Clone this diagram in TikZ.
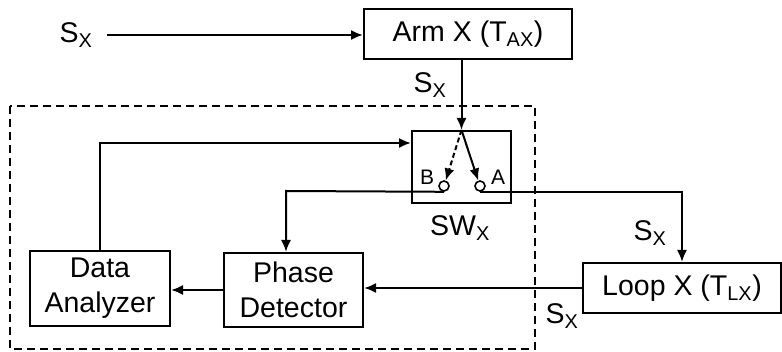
\documentclass[tikz,border=0pt]{standalone}
\usepackage{fontspec}
\setmainfont{Liberation Sans}
\usepackage{tikz}
\usetikzlibrary{positioning, arrows, arrows.meta, calc}
\tikzset{
  bigtext/.style={font=\fontsize{28.5}{35}\selectfont}
}
\tikzset{
  smalltext/.style={font=\fontsize{21}{23}\selectfont}
}
\tikzset{
  blockbox/.style={draw, line width=2pt, bigtext, align=center, inner sep=0pt}
}
\newcommand{\sgx}{S\textsubscript{X}}

\begin{document}
\begin{tikzpicture}[>={Latex[length=12pt, width=10pt]}, x=1pt, y=-1pt, line width=2pt]
      \useasboundingbox (0,0) rectangle (782,352);
      % dashed frame round the measuring side
      \draw[dash pattern=on 8pt off 5pt, line width=1.6pt] (10,106) rectangle (535,349);
      % blocks
      \node[blockbox, minimum width=208, minimum height=50] (arm) at (468,34) {Arm X (T\textsubscript{AX})};
      \node[blockbox, minimum width=198, minimum height=50] (loop) at (682,288) {Loop X (T\textsubscript{LX})};
      \node[blockbox, minimum width=140, minimum height=75] (da) at (100,288.5) {Data\\Analyzer};
      \node[blockbox, minimum width=139, minimum height=74] (pd) at (293.5,290) {Phase\\Detector};
      \node[blockbox, minimum width=99, minimum height=72] (sw) at (461.5,167) {};
      \node[bigtext] (swlabel) at (460,228) {SW\textsubscript{X}};
      % switch contacts
      \foreach \n/\x/\dx in {B/444/-17, A/480/18} {
        \node[draw, circle, minimum size=10, inner sep=0pt, line width=1.6pt] (c\n) at (\x,186) {};
        \node[smalltext] (l\n) at (\x+\dx,177) {\n};
      }
      \draw[->, dash pattern=on 5pt off 3pt] (sw.north) -- (cB);
      \draw[->] (sw.north) -- (cA);
      % signal labels
      \node[bigtext] (sin) at (76,35) {\sgx};
      \node[bigtext] (sarm) at (430,85) {\sgx};
      \node[bigtext] (sloop) at (650,233) {\sgx};
      \node[bigtext] (sret) at (562,316) {\sgx};
      % input through the arm into the switch
      \draw[->] ([xshift=10pt]sin.east) -- (sin.east -| arm.west);
      \draw[->] (arm.south -| sw.north) -- (sw.north);
      % contact B to detector, contact A round the loop
      \coordinate (bendB) at (286,191);
      \draw[->] (cB.south) -- (bendB) -- (bendB |- pd.north);
      \draw[->] (cA.south) -| (loop.north);
      \draw[->] (loop.west) -- (loop.west -| pd.east);
      \draw[->] (pd.west) -- (pd.west -| da.east);
      % analyzer sets the switch
      \draw[->] (da.north) |- ([yshift=24pt]sw.west);
\end{tikzpicture}
\end{document}
